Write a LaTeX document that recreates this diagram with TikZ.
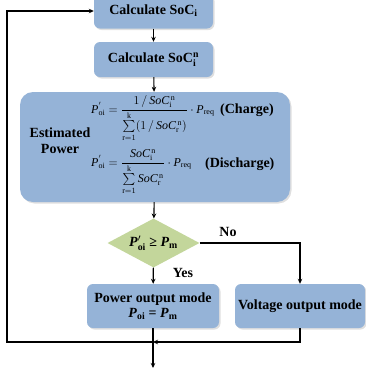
\documentclass[tikz,border=0pt]{standalone}
\usepackage{amsmath}
\usepackage{fontspec}
\setmainfont{Liberation Serif}
\usetikzlibrary{arrows.meta,shapes.geometric,shadows}
\definecolor{boxblue}{HTML}{95B3D7}
\definecolor{diagreen}{HTML}{C3D69B}
\newcommand{\mysoc}{\textit{SoC}}
\newcommand{\myP}{\textit{P}}
\begin{document}
\begin{tikzpicture}[x=1pt,y=-1pt,
  every node/.style={font=\fontsize{14}{16}\selectfont\bfseries},
  blk/.style={fill=boxblue, rounded corners=6pt, inner sep=0pt,
    drop shadow={opacity=0.25, shadow xshift=1.5pt, shadow yshift=-1.5pt}},
  dec/.style={shape=diamond, fill=diagreen, inner sep=0pt, aspect=1.88},
  conn/.style={line width=1.1pt, -{Stealth[length=5pt,width=4.5pt]}},
  lbl/.style={font=\fontsize{14}{16}\selectfont\bfseries},
  frm/.style={anchor=base west, font=\fontsize{12}{14}\selectfont, inner sep=0pt}
]
\useasboundingbox (0,0) rectangle (366,370);
\node[blk, minimum width=119pt, minimum height=35pt] (b1) at (153.5,11) {Calculate SoC\textsubscript{i}};
\node[blk, minimum width=119pt, minimum height=35pt] (b2) at (153.5,59.5) {Calculate SoC$_{\textbf{i}}^{\textbf{n}}$};
\node[blk, rounded corners=13pt, minimum width=270pt, minimum height=110pt] (big) at (155,147) {};
\node[align=center] (est) at (60,141) {Estimated\\Power};
\node[frm] (f1) at (91,113)
  {$\displaystyle \myP^{'}_{\text{oi}} = \frac{1\,/\,\mysoc^{\,\text{n}}_{\text{i}}}{\sum\limits_{\text{r}=1}^{\text{k}}(1\,/\,\mysoc^{\,\text{n}}_{\text{r}})}\cdot \myP_{\text{req}}$};
\node[anchor=base west, inner sep=0pt] (ch) at (220,113) {(Charge)};
\node[frm] (f2) at (91,166)
  {$\displaystyle \myP^{'}_{\text{oi}} = \frac{\mysoc^{\,\text{n}}_{\text{i}}}{\sum\limits_{\text{r}=1}^{\text{k}}\mysoc^{\,\text{n}}_{\text{r}}}\cdot \myP_{\text{req}}$};
\node[anchor=base west, inner sep=0pt] (dc) at (205,167) {(Discharge)};
\node[dec, minimum width=92pt, minimum height=49pt] (d) at (153.5,243) {\textit{P}$^{\prime}_{\textbf{oi}}$ ≥ \textit{P}$_{\textbf{m}}$};
\node[blk, minimum width=132pt, minimum height=44pt, align=center] (pw) at (153,306) {Power output mode\\[-1pt]\textit{P}\textsubscript{oi} = \textit{P}\textsubscript{m}};
\node[blk, minimum width=130pt, minimum height=44pt] (vo) at (300,306) {Voltage output mode};
\node[lbl] (yes) at (183,273) {Yes};
\node[lbl] (no) at (228,232) {No};
\coordinate (J) at (153,342);
\coordinate (L) at (7,342);
\coordinate (E) at (153,368);
\draw[conn] (b1) -- (b2);
\draw[conn] (b2) -- (big);
\draw[conn] (big) -- (d);
\draw[conn] (d) -- (pw);
\draw[conn] (d.east) -| (vo.north);
\draw[conn] (vo.south) |- (J);
\draw[conn] (pw.south) -- (E);
\draw[conn] (J) -- (L) |- (b1.west);
\end{tikzpicture}
\end{document}
